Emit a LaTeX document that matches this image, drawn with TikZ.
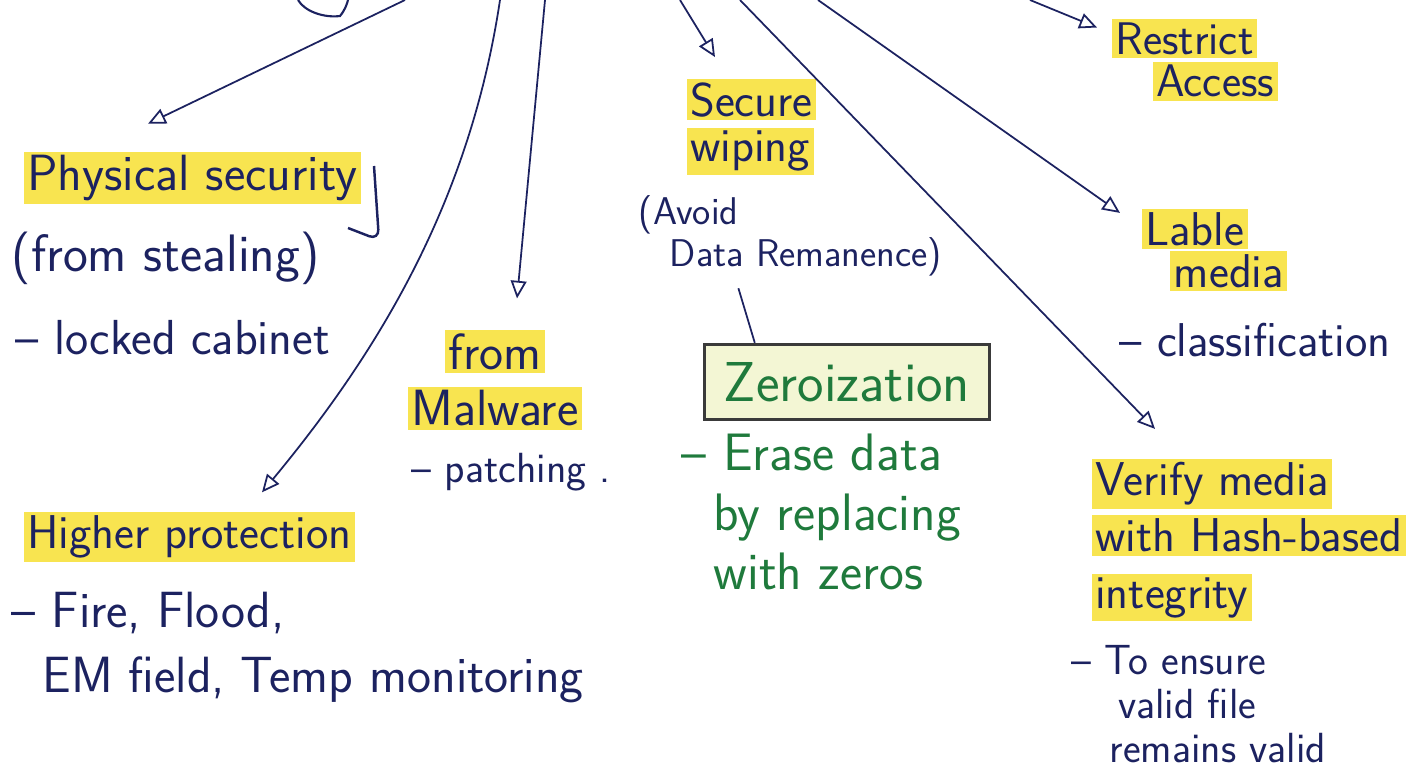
\documentclass[tikz,border=0pt]{standalone}
\usepackage{xcolor}
\usetikzlibrary{calc}
\usetikzlibrary{positioning}
\usetikzlibrary{arrows.meta}

\definecolor{ink}{HTML}{1C2260}
\definecolor{greenink}{HTML}{1F7A3C}
\definecolor{marker}{HTML}{F8E450}
\definecolor{boxfill}{HTML}{F3F6D4}
\definecolor{boxline}{HTML}{3A3A3A}

\setlength{\fboxsep}{2pt}
\newcommand{\hilite}[1]{\colorbox{marker}{#1}}

\tikzset{
  note/.style={text=ink, font=\sffamily\fontsize{27}{32}\selectfont, align=left, inner sep=2pt},
  greennote/.style={note, text=greenink},
  branch/.style={draw=ink, line width=1pt, -{Triangle[open,length=10pt,width=9pt]}},
}

\begin{document}
\begin{tikzpicture}[x=0.02cm, y=-0.02cm]
  \useasboundingbox (0,0) rectangle (1415,781);

  % loose ends of the branches at the top edge
  \coordinate (t1) at (405,0);
  \coordinate (t2) at (500,0);
  \coordinate (t3) at (545,0);
  \coordinate (t4) at (680,0);
  \coordinate (t5) at (740,0);
  \coordinate (t6) at (818,0);
  \coordinate (t7) at (1030,0);

  % bottom of the root bubble
  \draw[ink, line width=1.2pt] (298,0) .. controls (305,12) and (325,18) .. (340,16)
    .. controls (345,10) and (347,4) .. (348,0);

  % left side
  \node[note, anchor=west, font=\sffamily\fontsize{29}{32}\selectfont] (ps) at (20,178)
    {\hilite{Physical security}};
  \draw[ink, line width=1.4pt, rounded corners=6pt] (374,166) -- (379,240) -- (348,228);
  \node[note, anchor=west, font=\sffamily\fontsize{30}{32}\selectfont] (steal) at (8,258)
    {(from stealing)};
  \node[note, anchor=west, font=\sffamily\fontsize{28}{32}\selectfont] (cab) at (12,338)
    {-- locked cabinet};

  \node[note, anchor=west] (hp) at (20,537) {\hilite{Higher protection}};
  \node[note, anchor=west, font=\sffamily\fontsize{29}{37}\selectfont] (fire) at (8,648)
    {-- Fire, Flood,\\\hspace{0.6em}EM field, Temp monitoring};

  % middle
  \node[note, align=center, font=\sffamily\fontsize{29}{32}\selectfont] (mw) at (495,380)
    {\hilite{from}\\\hilite{Malware}};
  \node[note, anchor=west, font=\sffamily\fontsize{24}{30}\selectfont] (patch) at (408,472)
    {-- patching .};

  \node[note, anchor=west, font=\sffamily\fontsize{27}{26}\selectfont] (sw) at (683,127)
    {\hilite{Secure}\\\hilite{wiping}};
  \node[note, anchor=west, font=\sffamily\fontsize{22}{24}\selectfont] (dr) at (635,236)
    {(Avoid\\\hspace{0.8em}Data Remanence)};

  \node[greennote, draw=boxline, fill=boxfill, line width=2pt,
        minimum width=5.7cm, minimum height=1.5cm,
        font=\sffamily\fontsize{32}{34}\selectfont] (zero) at (847,382) {Zeroization};
  \node[greennote, anchor=west, font=\sffamily\fontsize{30}{34}\selectfont] (erase) at (678,512)
    {-- Erase data\\\hspace{0.6em}by replacing\\\hspace{0.6em}with zeros};

  % right side
  \node[note, anchor=west, font=\sffamily\fontsize{26}{24}\selectfont] (ra) at (1108,60)
    {\hilite{Restrict}\\\hspace{0.9em}\hilite{Access}};
  \node[note, anchor=west, font=\sffamily\fontsize{27}{24}\selectfont] (lm) at (1138,250)
    {\hilite{Lable}\\\hspace{0.6em}\hilite{media}};
  \node[note, anchor=west] (cls) at (1116,340) {-- classification};

  \node[note, anchor=west, font=\sffamily\fontsize{27}{32}\selectfont] (vm) at (1088,540)
    {\hilite{Verify media}\\\hilite{with Hash-based}\\\hilite{integrity}};
  \node[note, anchor=west, font=\sffamily\fontsize{24}{25}\selectfont] (ens) at (1068,704)
    {-- To ensure\\\hspace{1.1em}valid file\\\hspace{0.9em}remains valid};

  % branches
  \draw[branch] (t1) -- ($(ps.north west)+(128,-24)$);
  \draw[branch] (t2) .. controls (470,200) and (380,350) .. ($(hp.north west)+(242,-16)$);
  \draw[branch] (t3) -- ($(mw.north)+(22,-28)$);
  \draw[branch] (t4) -- ($(sw.north west)+(32,-18)$);
  \draw[branch] (t5) -- ($(vm.north west)+(67,-26)$);
  \draw[branch] (t6) -- ($(lm.north west)+(-18,8)$);
  \draw[branch] (t7) -- ($(ra.north west)+(-11,12)$);
  \draw[ink, line width=1pt] ($(dr.south)+(-52,8)$) -- ($(zero.north west)+(52,0)$);
\end{tikzpicture}
\end{document}
